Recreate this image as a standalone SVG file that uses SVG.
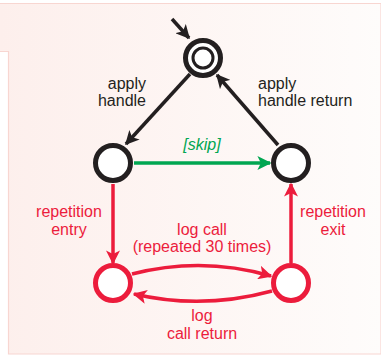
<svg xmlns="http://www.w3.org/2000/svg" width="381" height="355" viewBox="0 0 381 355">
<defs>
<linearGradient id="bg" x1="0" y1="0" x2="1" y2="0">
<stop offset="0" stop-color="#fdefec"/>
<stop offset="1" stop-color="#fefcfb"/>
</linearGradient>
<marker id="ak" markerWidth="4" markerHeight="4" refX="3.6" refY="2" orient="auto" markerUnits="strokeWidth"><path d="M0,0 L4,2 L0,4 L1,2 Z" fill="#231f20"/></marker>
<marker id="ag" markerWidth="4" markerHeight="4" refX="3.6" refY="2" orient="auto" markerUnits="strokeWidth"><path d="M0,0 L4,2 L0,4 L1,2 Z" fill="#00a651"/></marker>
<marker id="ar" markerWidth="4" markerHeight="4" refX="3.6" refY="2" orient="auto" markerUnits="strokeWidth"><path d="M0,0 L4,2 L0,4 L1,2 Z" fill="#ec1c3c"/></marker>
</defs>
<style>
text{font-family:"Liberation Sans",Arial,sans-serif;font-size:16px}
.k{fill:#231f20}
.r{fill:#ec1c3c}
.g{fill:#00a651;font-style:italic}
.st{fill:#fff;stroke-width:5}
.ck{stroke:#231f20;fill:none;stroke-width:3.5}
.cg{stroke:#00a651;fill:none;stroke-width:3.5}
.cr{stroke:#ec1c3c;fill:none;stroke-width:3.5}
</style>
<path d="M0,3.5 H381 V354 H8.5 V51.5 H0" fill="url(#bg)" stroke="#f8d6d1" stroke-width="1.2"/>
<g id="connectors">
<line class="ck" x1="172" y1="19" x2="189" y2="38" marker-end="url(#ak)"/>
<line class="ck" x1="190" y1="74" x2="126" y2="144" marker-end="url(#ak)"/>
<line class="ck" x1="278" y1="145" x2="217" y2="75" marker-end="url(#ak)"/>
<line class="cg" x1="134" y1="163" x2="270" y2="163" marker-end="url(#ag)"/>
<line class="cr" x1="113" y1="184" x2="113" y2="263" marker-end="url(#ar)"/>
<line class="cr" x1="291" y1="263" x2="291" y2="184" marker-end="url(#ar)"/>
<path class="cr" d="M132,274 Q202,256 271,276" marker-end="url(#ar)"/>
<path class="cr" d="M272,291 Q202,310 134,294" marker-end="url(#ar)"/>
</g>
<g id="n-start">
<circle class="st" cx="203" cy="58" r="17.5" stroke="#231f20"/>
<circle cx="203" cy="58" r="10" fill="#fff" stroke="#231f20" stroke-width="3"/>
</g>
<g id="n-left"><circle class="st" cx="113" cy="163" r="17.5" stroke="#231f20"/></g>
<g id="n-right"><circle class="st" cx="291" cy="163" r="17.5" stroke="#231f20"/></g>
<g id="n-bl"><circle class="st" cx="113" cy="283" r="17.5" stroke="#ec1c3c"/></g>
<g id="n-br"><circle class="st" cx="291" cy="283" r="17.5" stroke="#ec1c3c"/></g>
<g id="labels">
<text class="k" x="146" y="89" text-anchor="end">apply</text>
<text class="k" x="146" y="106" text-anchor="end">handle</text>
<text class="k" x="258" y="89">apply</text>
<text class="k" x="258" y="106">handle return</text>
<text class="g" x="202" y="150" text-anchor="middle">[skip]</text>
<text class="r" x="69" y="217" text-anchor="middle">repetition</text>
<text class="r" x="69" y="235" text-anchor="middle">entry</text>
<text class="r" x="333" y="217" text-anchor="middle">repetition</text>
<text class="r" x="333" y="235" text-anchor="middle">exit</text>
<text class="r" x="202" y="235" text-anchor="middle">log call</text>
<text class="r" x="202" y="252" text-anchor="middle">(repeated 30 times)</text>
<text class="r" x="202" y="321" text-anchor="middle">log</text>
<text class="r" x="202" y="339" text-anchor="middle">call return</text>
</g>
</svg>
